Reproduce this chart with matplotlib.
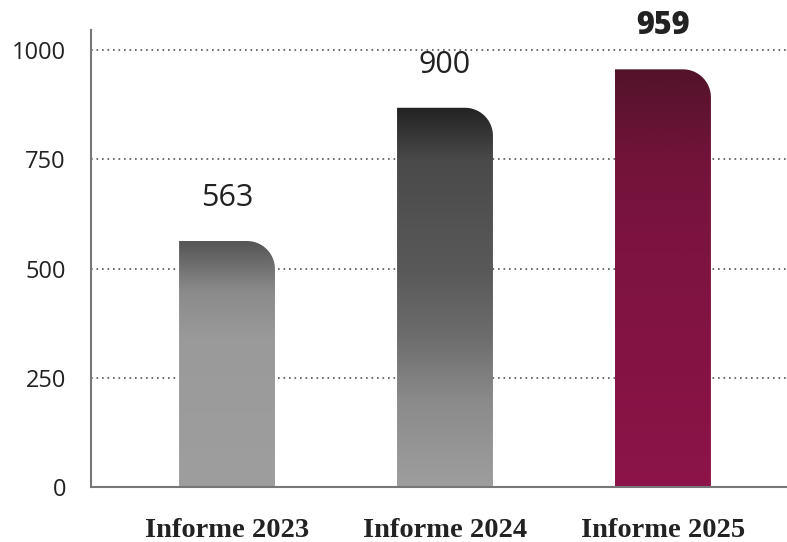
import matplotlib
matplotlib.use('Agg')
import matplotlib.pyplot as plt
import numpy as np
from matplotlib.path import Path
from matplotlib.patches import PathPatch
from matplotlib.colors import LinearSegmentedColormap

# Data
categories = ['Informe 2023', 'Informe 2024', 'Informe 2025']
values = [563, 868, 956]          # bar heights as drawn
value_labels = ['563', '900', '959']

# gradient stops per bar (fraction from top, colour)
gradients = [
    [(0.0, '#555555'), (0.2, '#8a8a8a'), (0.4, '#9a9a9a'), (1.0, '#9e9e9e')],
    [(0.0, '#232323'), (0.14, '#4a4a4a'), (0.43, '#595959'), (0.6, '#6c6c6c'),
     (0.77, '#8a8a8a'), (1.0, '#9e9e9e')],
    [(0.0, '#52132a'), (0.22, '#73133a'), (0.46, '#7e1340'), (1.0, '#8c1448')],
]

W, H = 787, 542
fig = plt.figure(figsize=(W / 100, H / 100), dpi=100)
ax = fig.add_axes([91 / W, (H - 487) / H, 696 / W, (487 - 30) / H])

x = np.arange(len(categories))
width = 0.44
ax.set_xlim(-0.624, 2.569)
ax.set_ylim(0, 1046)

# radius of the rounded corner in pixels -> data units
px_x = 696 / (2.569 + 0.624)
px_y = (487 - 30) / 1046
radius = 28
rx, ry = radius / px_x, radius / px_y

for xi, h, stops in zip(x, values, gradients):
    x0, x1 = xi - width / 2, xi + width / 2
    t = np.linspace(np.pi / 2, 0, 20)
    cx, cy = x1 - rx, h - ry
    verts = [(x0, 0), (x0, h)] + [(cx + rx * np.cos(a), cy + ry * np.sin(a)) for a in t] + [(x1, 0), (x0, 0)]
    codes = [Path.MOVETO] + [Path.LINETO] * (len(verts) - 2) + [Path.CLOSEPOLY]
    patch = PathPatch(Path(verts, codes), facecolor='none', edgecolor='none', zorder=3)
    ax.add_patch(patch)
    cmap = LinearSegmentedColormap.from_list('g', stops)
    grad = np.linspace(0, 1, 256).reshape(-1, 1)
    im = ax.imshow(grad, cmap=cmap, aspect='auto', extent=[x0, x1, 0, h],
                   origin='upper', zorder=3, interpolation='bilinear')
    im.set_clip_path(patch)

# value labels
for i, (xi, h, lab) in enumerate(zip(x, values, value_labels)):
    bold = i == 2
    ax.annotate(lab, xy=(xi, h), xytext=(0, 31), textcoords='offset points',
                ha='center', va='center', fontsize=22, color='#222222',
                family='Open Sans', fontweight='heavy' if bold else 'normal')

# axes styling
ax.set_yticks([0, 250, 500, 750, 1000])
ax.set_yticklabels(['0', '250', '500', '750', '1000'], family='Open Sans', fontsize=17, color='#222222')
ax.set_xticks(x)
ax.set_xticklabels(categories, family='Liberation Serif', fontsize=20.5, fontweight='bold', color='#222222')
ax.tick_params(axis='y', length=0, pad=18)
ax.tick_params(axis='x', length=0, pad=22)

ax.yaxis.grid(True, linestyle=(0, (1, 2.3)), linewidth=1.2, color='#555555', zorder=0)
ax.set_axisbelow(True)
for s in ['top', 'right']:
    ax.spines[s].set_visible(False)
for s in ['left', 'bottom']:
    ax.spines[s].set_color('#777777')
    ax.spines[s].set_linewidth(1.5)
    ax.spines[s].set_zorder(4)

fig.savefig('out.png', dpi=100)
